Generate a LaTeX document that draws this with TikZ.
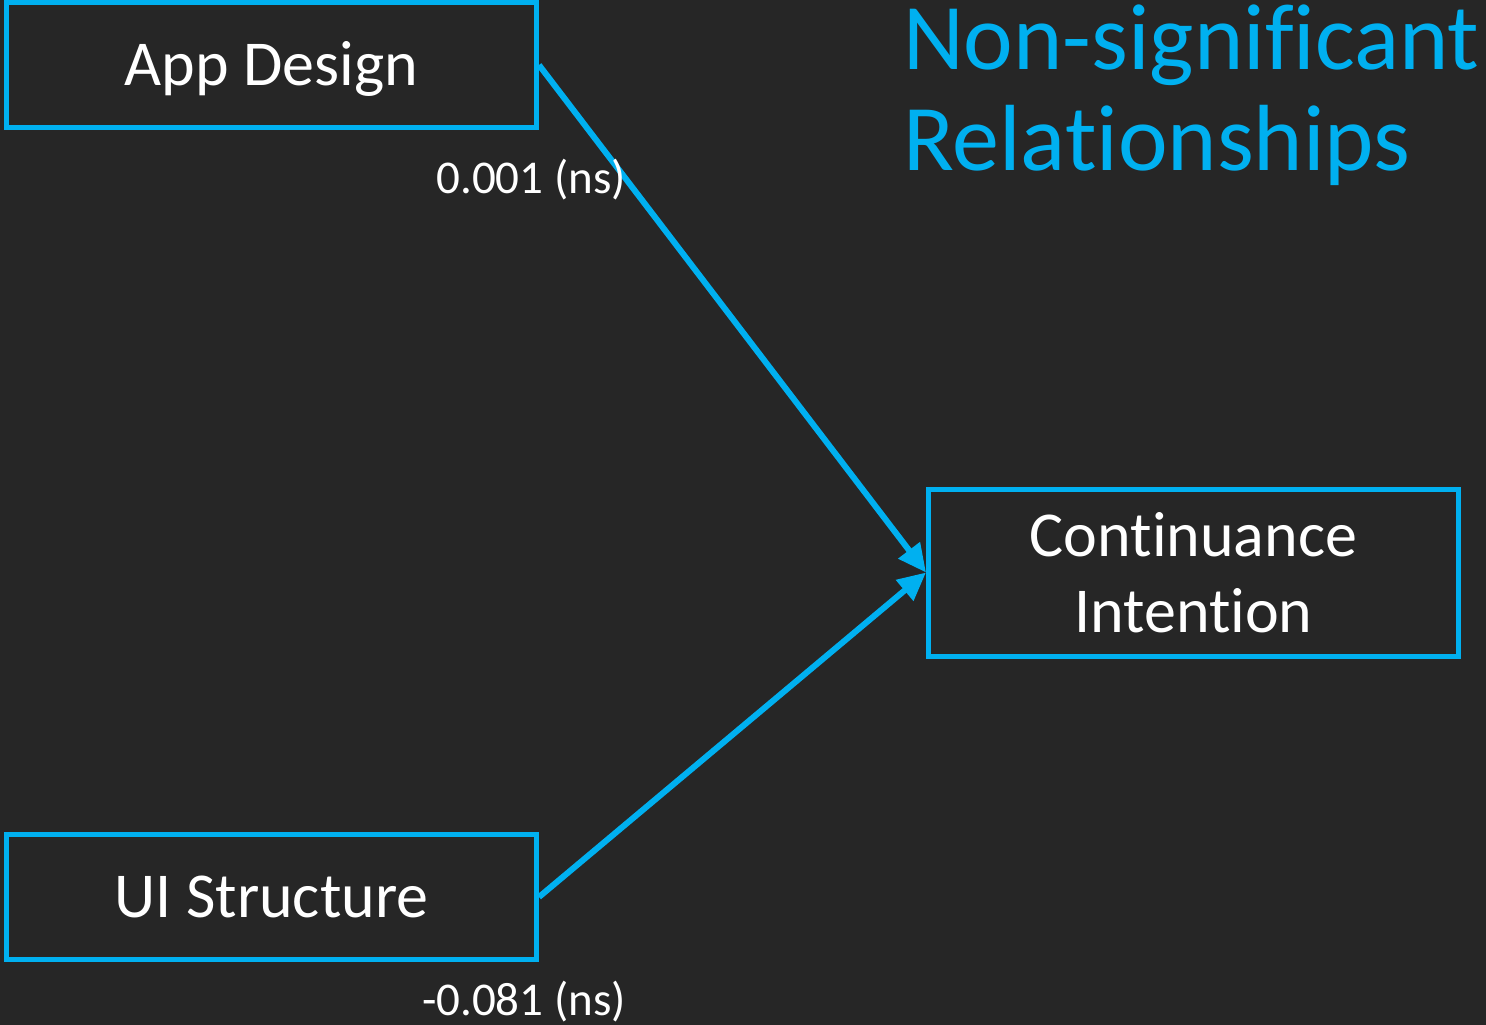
\documentclass[tikz,border=0pt]{standalone}
\usepackage{fontspec}
\setmainfont{Carlito}[RawFeature={-liga;-clig;-dlig;-calt}]
\usetikzlibrary{arrows.meta}
\definecolor{bg}{HTML}{262626}
\definecolor{accent}{HTML}{00B0F0}
\begin{document}
\begin{tikzpicture}[x=1pt,y=-1pt,
  construct/.style={draw=accent, line width=5pt, fill=bg, text=white,
    inner sep=0pt, minimum width=530pt, align=center,
    font=\fontsize{64}{76}\selectfont},
  oneline/.style={minimum height=125pt, text height=41pt, text depth=0pt},
  path/.style={draw=accent, line width=6pt,
    -{Triangle[length=28pt,width=26pt]}},
  coef/.style={text=white, inner sep=0pt, font=\fontsize{47}{56}\selectfont}
]
\fill[bg] (0,0) rectangle (1486,1025);
\useasboundingbox (0,0) rectangle (1486,1025);

\node[construct, oneline] (app) at (271.5,65) {App Design};
\node[construct, oneline] (ui) at (271.5,897) {UI Structure};
\node[construct, minimum height=167pt] (ci) at (1193.5,572.5) {Continuance\\Intention};

% heading: anchor sits on the baseline of its second line
\node[text=accent, anchor=base west, inner sep=0pt, align=left,
  font=\fontsize{94}{101}\selectfont] (title) at (903,170)
  {Non-significant\\Relationships};

\draw[path] (app.east) -- (ci.west);
\draw[path] (ui.east) -- (ci.west);

\node[coef, anchor=base east] (c1) at (626,193) {0.001 (ns)};
\node[coef, anchor=base east] (c2) at (626,1015) {-0.081 (ns)};
\end{tikzpicture}
\end{document}
